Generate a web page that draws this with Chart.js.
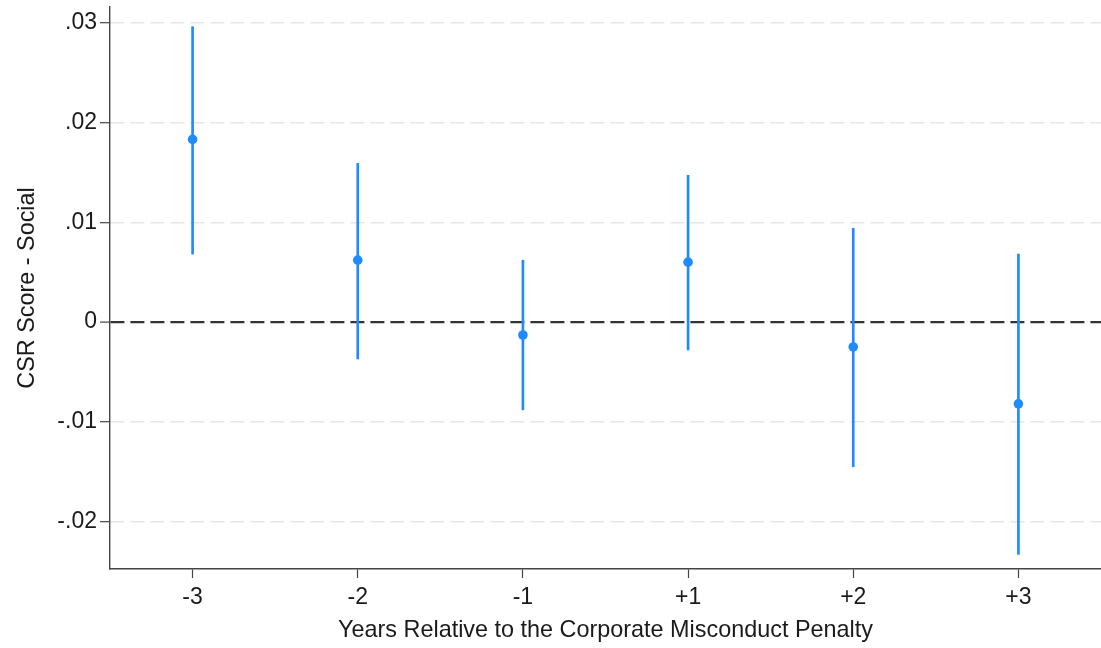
<!DOCTYPE html>
<html>
<head>
<meta charset="utf-8">
<script src="https://cdn.jsdelivr.net/npm/chart.js@4.4.1/dist/chart.umd.min.js"></script>
<style>
  html, body { margin: 0; padding: 0; background: #ffffff; }
  #wrap { width: 1101px; height: 648px; position: relative; }
</style>
</head>
<body>
<div id="wrap"><canvas id="c" width="1101" height="648"></canvas></div>
<script>
const categories = ['-3', '-2', '-1', '+1', '+2', '+3'];
const coef   = [0.0183, 0.0062, -0.0013, 0.0060, -0.0025, -0.0082];
const ciLow  = [0.0068, -0.0037, -0.0088, -0.0028, -0.0145, -0.0233];
const ciHigh = [0.0296, 0.0159, 0.0062, 0.0147, 0.0094, 0.0068];
const yTickValues = [-0.02, -0.01, 0, 0.01, 0.02, 0.03];
const yTickLabels = ['-.02', '-.01', '0', '.01', '.02', '.03'];
const xTitle = 'Years Relative to the Corporate Misconduct Penalty';
const yTitle = 'CSR Score - Social';

const blue = '#1f8bff';
const textColor = '#1a1a1a';
const fontFamily = '"Liberation Sans", Arial, sans-serif';

const ciData = ciLow.map((lo, i) => [lo, ciHigh[i]]);

new Chart(document.getElementById('c'), {
  type: 'bar',
  data: {
    labels: categories,
    datasets: [
      { type: 'line', label: 'Coefficient', data: coef, showLine: false, pointRadius: 4.8,
        pointBackgroundColor: blue, pointBorderWidth: 0, order: 0 },
      { type: 'bar', label: '95% CI', data: ciData, backgroundColor: blue, borderWidth: 0,
        barThickness: 2, order: 1 }
    ]
  },
  options: {
    responsive: false,
    animation: false,
    devicePixelRatio: 1,
    layout: { autoPadding: false, padding: { top: 7, right: 0, bottom: 0, left: 0 } },
    plugins: { legend: { display: false }, tooltip: { enabled: false } },
    scales: {
      x: {
        type: 'category',
        offset: true,
        grid: { offset: false, drawOnChartArea: false, drawTicks: true, tickLength: 9, tickColor: '#444', tickWidth: 1.2 },
        border: { display: true, color: '#444', width: 1.4 },
        ticks: { color: textColor, padding: 6, maxRotation: 0, font: { family: fontFamily, size: 23 } },
        title: { display: true, text: xTitle, color: textColor, padding: { top: 0, bottom: 3 }, font: { family: fontFamily, size: 23.4 } },
        afterFit: (s) => { s.height = 79; s.paddingLeft = 0; s.paddingRight = 0; }
      },
      y: {
        type: 'linear',
        min: -0.02475,
        max: 0.03157,
        afterBuildTicks: (s) => { s.ticks = yTickValues.map(v => ({ value: v })); },
        ticks: {
          includeBounds: false, color: textColor, padding: 3, font: { family: fontFamily, size: 23 },
          callback: (v) => { const i = yTickValues.findIndex(t => Math.abs(t - v) < 1e-9); return i >= 0 ? yTickLabels[i] : ''; }
        },
        grid: {
          drawOnChartArea: true, drawTicks: true, tickLength: 10,
          color: (ctx) => (ctx.tick && Math.abs(ctx.tick.value) < 1e-12) ? '#333333' : '#e6e6e6',
          lineWidth: (ctx) => (ctx.tick && Math.abs(ctx.tick.value) < 1e-12) ? 2.2 : 1.4,
          tickColor: '#444', tickWidth: 1.2, tickBorderDash: []
        },
        border: { display: true, color: '#444', width: 1.4, dash: [14, 6] },
        title: { display: true, text: yTitle, color: textColor, padding: { top: 14, bottom: 0 }, font: { family: fontFamily, size: 23.4 } },
        afterFit: (s) => { s.width = 110; s.paddingTop = 0; s.paddingBottom = 0; }
      }
    }
  }
});
</script>
</body>
</html>
